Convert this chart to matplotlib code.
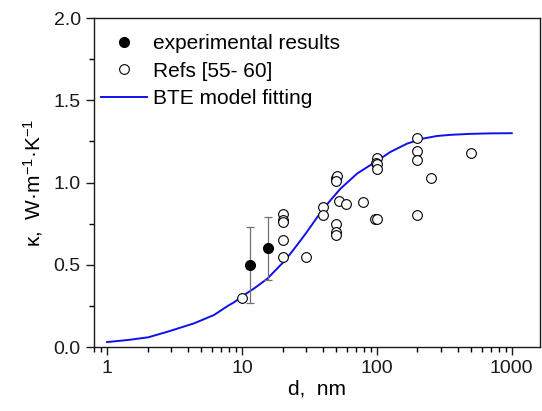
import numpy as np
import matplotlib
matplotlib.use("Agg")
import matplotlib.pyplot as plt
from matplotlib.ticker import LogLocator, MultipleLocator, NullFormatter, FixedFormatter, FixedLocator

plt.rcParams['font.family'] = ['Liberation Sans', 'DejaVu Sans']
plt.rcParams['mathtext.fontset'] = 'custom'
plt.rcParams['mathtext.rm'] = 'Liberation Sans'
plt.rcParams['mathtext.it'] = 'Liberation Sans:italic'

# experimental results (d in nm, kappa in W/m/K)
exp_d = [11.5, 15.5]
exp_k = [0.50, 0.60]
exp_err = [0.23, 0.19]

# literature data, Refs [55-60]
ref_d = [10, 20, 20, 20, 20, 20, 30, 40, 40, 50, 50.5, 50, 52, 59, 50, 50, 50,
         79, 100, 98, 100, 100, 97, 100, 200, 200, 200, 200, 250, 500]
ref_k = [0.30, 0.81, 0.77, 0.76, 0.65, 0.55, 0.55, 0.85, 0.80, 1.03, 1.04, 1.01,
         0.89, 0.87, 0.75, 0.70, 0.68, 0.88, 1.15, 1.12, 1.11, 1.08, 0.78, 0.78,
         1.27, 1.19, 1.14, 0.80, 1.03, 1.18]

# BTE model fitting curve
bte_d = [1.0, 1.44, 2.02, 2.81, 4.42, 6.22, 7.89, 8.74, 9.91, 11.0, 12.4, 15.4,
         20.5, 22.9, 27.2, 30.5, 36.2, 40.5, 45.4, 53.8, 71.5, 100, 126, 168,
         222, 279, 350, 492, 692, 1000]
bte_k = [0.030, 0.043, 0.059, 0.093, 0.144, 0.195, 0.251, 0.272, 0.304, 0.330,
         0.358, 0.415, 0.520, 0.568, 0.648, 0.703, 0.790, 0.843, 0.893, 0.963,
         1.055, 1.131, 1.186, 1.237, 1.268, 1.283, 1.290, 1.296, 1.299, 1.300]

fig = plt.figure(figsize=(5.42, 4.11), dpi=100)
ax = fig.add_axes([0.1734, 0.1557, 0.8229, 0.8003])

ax.plot(bte_d, bte_k, color='#1010ee', lw=1.4, label='BTE model fitting',
        solid_joinstyle='round', zorder=2)
ax.errorbar(exp_d, exp_k, yerr=exp_err, fmt='none', ecolor='#707070',
            elinewidth=0.9, capsize=3, capthick=0.9, zorder=3)
ax.plot(exp_d, exp_k, 'o', color='black', ms=7, ls='none',
        label='experimental results', zorder=4)
ax.plot(ref_d, ref_k, 'o', mfc='white', mec='black', mew=0.8, ms=7, ls='none',
        label='Refs [55- 60]', zorder=3)

ax.set_xscale('log')
ax.set_xlim(0.8, 1620)
ax.set_ylim(0, 2.0)
ax.xaxis.set_major_locator(FixedLocator([1, 10, 100, 1000]))
ax.xaxis.set_major_formatter(FixedFormatter(['1', '10', '100', '1000']))
ax.xaxis.set_minor_locator(LogLocator(base=10, subs=np.arange(2, 10)))
ax.xaxis.set_minor_formatter(NullFormatter())
ax.yaxis.set_major_locator(MultipleLocator(0.5))
ax.yaxis.set_minor_locator(MultipleLocator(0.25))
ax.yaxis.set_major_formatter(plt.FuncFormatter(lambda v, p: f'{v:.1f}'))

ax.tick_params(which='major', direction='out', length=6, width=1, labelsize=14,
               colors='#1a1a1a', top=False, right=False)
ax.tick_params(which='minor', direction='out', length=3.5, width=1,
               top=False, right=False)
for s in ax.spines.values():
    s.set_linewidth(1.0)
    s.set_color('#1a1a1a')

ax.set_xlabel('d,  nm', fontsize=15, labelpad=2)
ax.set_ylabel(r'κ,  W·m$^{-1}$·K$^{-1}$', fontsize=15, labelpad=6)

handles, labels = ax.get_legend_handles_labels()
order = [1, 2, 0]
ax.legend([handles[i] for i in order], [labels[i] for i in order],
          loc='upper left', frameon=False, fontsize=15, handlelength=2.2,
          handletextpad=0.3, labelspacing=0.42, borderaxespad=0.2,
          bbox_to_anchor=(-0.012, 0.99))

fig.savefig('out.png', dpi=100)
